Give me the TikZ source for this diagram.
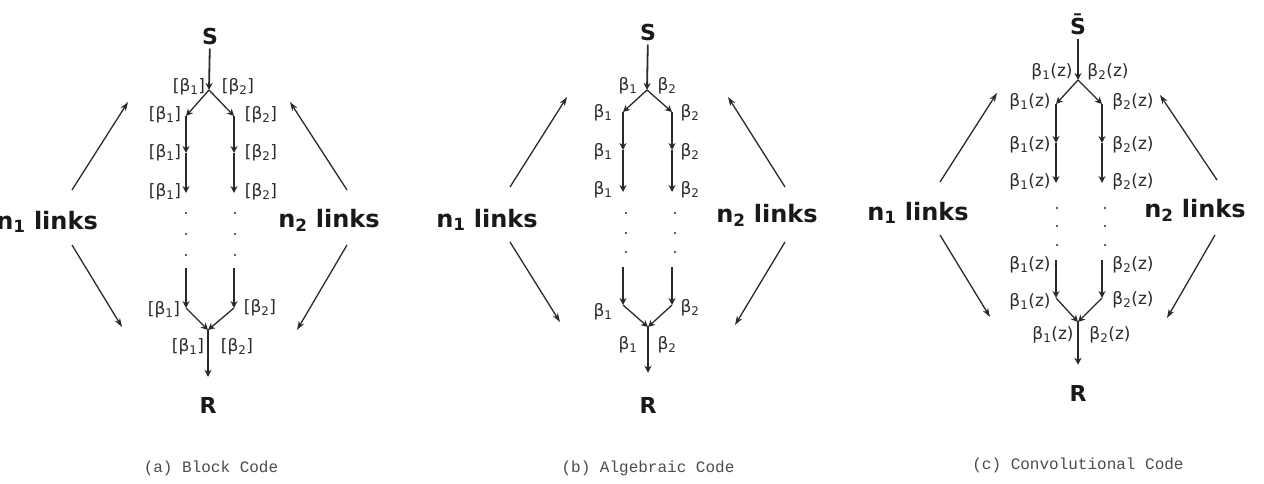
\documentclass[tikz,border=0pt]{standalone}
\usepackage{fontspec}
\setmainfont{DejaVu Sans}
\newfontfamily\capfont{Liberation Mono}
\usetikzlibrary{arrows.meta}
\definecolor{ink}{HTML}{2A2A2A}
\newcommand\bfirst{β\textsubscript{1}}
\newcommand\bsecond{β\textsubscript{2}}
\tikzset{
  title/.style   = {font=\fontsize{22}{26}\selectfont\bfseries, text=black!90, inner sep=3pt},
  side/.style    = {font=\fontsize{24}{28}\selectfont\bfseries, text=black!90, inner sep=0pt},
  coef/.style    = {font=\fontsize{17}{20}\selectfont, text=ink, inner sep=0pt},
  legend/.style  = {font=\capfont\fontsize{16}{19}\selectfont, text=black!70},
  link/.style    = {draw=ink, line width=1.8pt, -{Stealth[length=7pt,width=7pt]}},
  fork/.style    = {draw=ink, line width=1.3pt, -{Stealth[length=7pt,width=7pt]}},
  hint/.style    = {draw=ink, line width=1.3pt, -{Stealth[length=9pt,width=6pt]}}
}

\begin{document}
\begin{tikzpicture}[x=1pt, y=-1pt]
  \useasboundingbox (0,0) rectangle (1264,484);
  \clip (0,0) rectangle (1264,484);

  % (a) block code
  \node[title, anchor=base] (aSrc) at (210,45) {S};
  \node[title, anchor=base] (aDst) at (208,413) {R};
  \coordinate (aSplit) at (209,90);
  \coordinate (aJoin) at (208,330);
  \coordinate (aP1) at (186,116); \coordinate (aP2) at (186,153); \coordinate (aP3) at (186,193);
  \coordinate (aP4) at (186,268); \coordinate (aP5) at (186,308);
  \coordinate (aQ1) at (234,116); \coordinate (aQ2) at (234,153); \coordinate (aQ3) at (234,193);
  \coordinate (aQ4) at (234,268); \coordinate (aQ5) at (234,308);
  \draw[link] (aSrc) -- (aSplit);
  \draw[fork] (aSplit) -- (aP1);
  \draw[fork] (aSplit) -- (aQ1);
  \draw[link] (aP1) -- (aP2);
  \draw[link] (aP2) -- (aP3);
  \draw[link] (aP4) -- (aP5);
  \draw[link] (aQ1) -- (aQ2);
  \draw[link] (aQ2) -- (aQ3);
  \draw[link] (aQ4) -- (aQ5);
  \draw[fork] (aP5) -- (aJoin);
  \draw[fork] (aQ5) -- (aJoin);
  \draw[link, shorten >=17pt] (aJoin) -- (aDst);
  \foreach \y in {213,234,255} {
    \fill[ink] (186,\y) circle (1.1pt);
    \fill[ink] (235,\y) circle (1.1pt);
  }
  \node[coef] (aT1) at (189,87) {[\bfirst]};
  \node[coef] (aT2) at (238,87) {[\bsecond]};
  \node[coef] (aL1) at (165,115) {[\bfirst]};
  \node[coef] (aL2) at (165,153) {[\bfirst]};
  \node[coef] (aL3) at (165,192) {[\bfirst]};
  \node[coef] (aL4) at (164,310) {[\bfirst]};
  \node[coef] (aR1) at (261,115) {[\bsecond]};
  \node[coef] (aR2) at (261,153) {[\bsecond]};
  \node[coef] (aR3) at (261,192) {[\bsecond]};
  \node[coef] (aR4) at (260,308) {[\bsecond]};
  \node[coef] (aB1) at (188,347) {[\bfirst]};
  \node[coef] (aB2) at (237,347) {[\bsecond]};
  \node[side, anchor=east] (aN1) at (98,222) {n\textsubscript{1} links};
  \node[side] (aN2) at (329,220) {n\textsubscript{2} links};
  \coordinate (aN1a) at (72,190);   \coordinate (aN1b) at (128,102);
  \coordinate (aN1c) at (72,245);   \coordinate (aN1d) at (122,327);
  \coordinate (aN2a) at (347,190);  \coordinate (aN2b) at (290,102);
  \coordinate (aN2c) at (347,245);  \coordinate (aN2d) at (297,330);
  \draw[hint] (aN1a) -- (aN1b);
  \draw[hint] (aN1c) -- (aN1d);
  \draw[hint] (aN2a) -- (aN2b);
  \draw[hint] (aN2c) -- (aN2d);
  \node[legend] (aCap) at (211,468) {(a) Block Code};

  % (b) algebraic code
  \node[title, anchor=base] (bSrc) at (648,41) {S};
  \node[title, anchor=base] (bDst) at (648,413) {R};
  \coordinate (bSplit) at (647,90);
  \coordinate (bJoin) at (648,327);
  \coordinate (bP1) at (623,112); \coordinate (bP2) at (623,150); \coordinate (bP3) at (623,192);
  \coordinate (bP4) at (623,267); \coordinate (bP5) at (623,305);
  \coordinate (bQ1) at (672,112); \coordinate (bQ2) at (672,150); \coordinate (bQ3) at (672,192);
  \coordinate (bQ4) at (672,267); \coordinate (bQ5) at (672,305);
  \draw[link] (bSrc) -- (bSplit);
  \draw[fork] (bSplit) -- (bP1);
  \draw[fork] (bSplit) -- (bQ1);
  \draw[link] (bP1) -- (bP2);
  \draw[link] (bP2) -- (bP3);
  \draw[link] (bP4) -- (bP5);
  \draw[link] (bQ1) -- (bQ2);
  \draw[link] (bQ2) -- (bQ3);
  \draw[link] (bQ4) -- (bQ5);
  \draw[fork] (bP5) -- (bJoin);
  \draw[fork] (bQ5) -- (bJoin);
  \draw[link, shorten >=21pt] (bJoin) -- (bDst);
  \foreach \y in {213,233,252} {
    \fill[ink] (626,\y) circle (1.1pt);
    \fill[ink] (675,\y) circle (1.1pt);
  }
  \node[coef] (bT1) at (628,86) {\bfirst};
  \node[coef] (bT2) at (667,86) {\bsecond};
  \node[coef] (bL1) at (603,113) {\bfirst};
  \node[coef] (bL2) at (603,152) {\bfirst};
  \node[coef] (bL3) at (603,190) {\bfirst};
  \node[coef] (bL4) at (603,312) {\bfirst};
  \node[coef] (bR1) at (690,113) {\bsecond};
  \node[coef] (bR2) at (690,152) {\bsecond};
  \node[coef] (bR3) at (690,190) {\bsecond};
  \node[coef] (bR4) at (690,308) {\bsecond};
  \node[coef] (bB1) at (628,345) {\bfirst};
  \node[coef] (bB2) at (667,345) {\bsecond};
  \node[side] (bN1) at (487,220) {n\textsubscript{1} links};
  \node[side] (bN2) at (767,215) {n\textsubscript{2} links};
  \coordinate (bN1a) at (510,187);  \coordinate (bN1b) at (567,97);
  \coordinate (bN1c) at (510,242);  \coordinate (bN1d) at (560,322);
  \coordinate (bN2a) at (785,187);  \coordinate (bN2b) at (728,97);
  \coordinate (bN2c) at (785,242);  \coordinate (bN2d) at (735,325);
  \draw[hint] (bN1a) -- (bN1b);
  \draw[hint] (bN1c) -- (bN1d);
  \draw[hint] (bN2a) -- (bN2b);
  \draw[hint] (bN2c) -- (bN2d);
  \node[legend] (bCap) at (648,468) {(b) Algebraic Code};

  % (c) convolutional code
  \node[title, anchor=base] (cSrc) at (1078,35) {\={S}};
  \node[title, anchor=base] (cDst) at (1078,401) {R};
  \coordinate (cSplit) at (1078,80);
  \coordinate (cJoin) at (1078,322);
  \coordinate (cP1) at (1056,104); \coordinate (cP2) at (1056,143); \coordinate (cP3) at (1056,183);
  \coordinate (cP4) at (1056,260); \coordinate (cP5) at (1056,298);
  \coordinate (cQ1) at (1102,104); \coordinate (cQ2) at (1102,143); \coordinate (cQ3) at (1102,183);
  \coordinate (cQ4) at (1102,260); \coordinate (cQ5) at (1102,298);
  \draw[link] (cSrc) -- (cSplit);
  \draw[fork] (cSplit) -- (cP1);
  \draw[fork] (cSplit) -- (cQ1);
  \draw[link] (cP1) -- (cP2);
  \draw[link] (cP2) -- (cP3);
  \draw[link] (cP4) -- (cP5);
  \draw[link] (cQ1) -- (cQ2);
  \draw[link] (cQ2) -- (cQ3);
  \draw[link] (cQ4) -- (cQ5);
  \draw[fork] (cP5) -- (cJoin);
  \draw[fork] (cQ5) -- (cJoin);
  \draw[link, shorten >=17pt] (cJoin) -- (cDst);
  \foreach \y in {208,226,245} {
    \fill[ink] (1057,\y) circle (1.1pt);
    \fill[ink] (1105,\y) circle (1.1pt);
  }
  \node[coef] (cT1) at (1052,72) {\bfirst(z)};
  \node[coef] (cT2) at (1108,72) {\bsecond(z)};
  \node[coef] (cL1) at (1030,102) {\bfirst(z)};
  \node[coef] (cL2) at (1030,145) {\bfirst(z)};
  \node[coef] (cL3) at (1030,182) {\bfirst(z)};
  \node[coef] (cL4) at (1030,265) {\bfirst(z)};
  \node[coef] (cL5) at (1030,302) {\bfirst(z)};
  \node[coef] (cR1) at (1133,102) {\bsecond(z)};
  \node[coef] (cR2) at (1133,145) {\bsecond(z)};
  \node[coef] (cR3) at (1133,182) {\bsecond(z)};
  \node[coef] (cR4) at (1133,265) {\bsecond(z)};
  \node[coef] (cR5) at (1133,300) {\bsecond(z)};
  \node[coef] (cB1) at (1053,335) {\bfirst(z)};
  \node[coef] (cB2) at (1110,335) {\bsecond(z)};
  \node[side] (cN1) at (918,213) {n\textsubscript{1} links};
  \node[side] (cN2) at (1195,210) {n\textsubscript{2} links};
  \coordinate (cN1a) at (940,182);  \coordinate (cN1b) at (997,93);
  \coordinate (cN1c) at (940,235);  \coordinate (cN1d) at (990,317);
  \coordinate (cN2a) at (1217,180); \coordinate (cN2b) at (1160,95);
  \coordinate (cN2c) at (1215,235); \coordinate (cN2d) at (1167,318);
  \draw[hint] (cN1a) -- (cN1b);
  \draw[hint] (cN1c) -- (cN1d);
  \draw[hint] (cN2a) -- (cN2b);
  \draw[hint] (cN2c) -- (cN2d);
  \node[legend] (cCap) at (1078,465) {(c) Convolutional Code};
\end{tikzpicture}
\end{document}
